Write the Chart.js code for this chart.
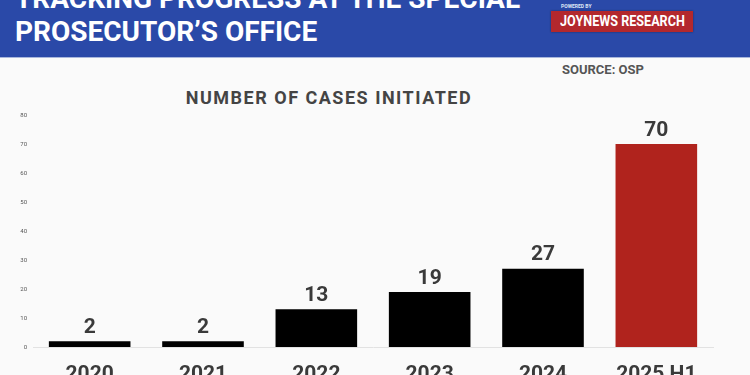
<!DOCTYPE html>
<html>
<head>
<meta charset="utf-8">
<script src="https://cdn.jsdelivr.net/npm/chart.js"></script>
<style>
  html, body { margin: 0; padding: 0; }
  body {
    width: 750px; height: 375px; overflow: hidden; position: relative;
    background: #fafafa; font-family: Roboto, "Liberation Sans", sans-serif;
  }
  #header {
    position: absolute; left: 0; top: 0; width: 750px; height: 57px;
    background: #2a49a8; border-bottom: 1px solid #a9b7dc; overflow: hidden;
  }
  .headline {
    position: absolute; left: 15px; color: #fff; font-weight: 700;
    font-size: 28px; line-height: 28px; white-space: nowrap;
  }
  #powered {
    position: absolute; left: 561px; top: 3px; color: #dfe5f5;
    font-size: 5px; font-weight: 700;
  }
  #logo {
    position: absolute; left: 551px; top: 11px; width: 142px; height: 21px;
    background: #b3282d; box-shadow: 0 0 2px rgba(0,0,0,.4);
  }
  #logo span {
    position: absolute; left: 9px; top: 3px; color: #fff; font-weight: 700;
    font-size: 15px; line-height: 15px; white-space: nowrap;
    transform: scaleX(0.84); transform-origin: left top;
  }
  #source {
    position: absolute; left: 562px; top: 62px; color: #555;
    font-weight: 700; font-size: 13px;
  }
  #title {
    position: absolute; left: 0; width: 658px; top: 87px; text-align: center;
    color: #444; font-weight: 700; font-size: 18px; letter-spacing: 1.5px;
  }
  #chart { position: absolute; left: 0; top: 0; }
</style>
</head>
<body>
<div id="header">
  <div class="headline" style="top:-15px">TRACKING PROGRESS AT THE SPECIAL</div>
  <div class="headline" style="top:18px">PROSECUTOR’S OFFICE</div>
  <div id="powered">POWERED BY</div>
  <div id="logo"><span>JOYNEWS RESEARCH</span></div>
</div>
<div id="source">SOURCE: OSP</div>
<div id="title">NUMBER OF CASES INITIATED</div>
<canvas id="chart" width="750" height="400"></canvas>

<script>
const years = ["2020", "2021", "2022", "2023", "2024", "2025 H1"];
const cases = [2, 2, 13, 19, 27, 70];
const barColors = ["#000000", "#000000", "#000000", "#000000", "#000000", "#b0231d"];

// value labels above each bar
const valueLabels = {
  id: "valueLabels",
  afterDatasetsDraw(chart) {
    const ctx = chart.ctx;
    const meta = chart.getDatasetMeta(0);
    ctx.save();
    ctx.font = "700 21px Roboto";
    ctx.fillStyle = "#3a3a3a";
    ctx.textAlign = "center";
    ctx.textBaseline = "bottom";
    meta.data.forEach((bar, i) => {
      ctx.fillText(String(cases[i]), bar.x, bar.y - 3);
    });
    ctx.restore();
  }
};

new Chart(document.getElementById("chart"), {
  type: "bar",
  data: {
    labels: years,
    datasets: [{
      data: cases,
      backgroundColor: barColors,
      categoryPercentage: 1,
      barPercentage: 0.72
    }]
  },
  options: {
    responsive: false,
    animation: false,
    layout: { padding: { top: 115, right: 37, left: 0, bottom: 0 } },
    plugins: { legend: { display: false }, tooltip: { enabled: false } },
    scales: {
      x: {
        grid: { display: false, drawTicks: false },
        border: { display: true, color: "#e2e2e2" },
        ticks: { color: "#3a3a3a", font: { family: "Roboto", size: 21, weight: "700" }, padding: 15, maxRotation: 0 },
        afterFit(scale) { scale.height = 53; }
      },
      y: {
        min: 0, max: 80,
        grid: { display: false, drawTicks: false },
        border: { display: false },
        ticks: { stepSize: 10, color: "#555", font: { family: "Roboto", size: 6 }, padding: 6 },
        afterFit(scale) { scale.width = 33; }
      }
    }
  },
  plugins: [valueLabels]
});
</script>
</body>
</html>
